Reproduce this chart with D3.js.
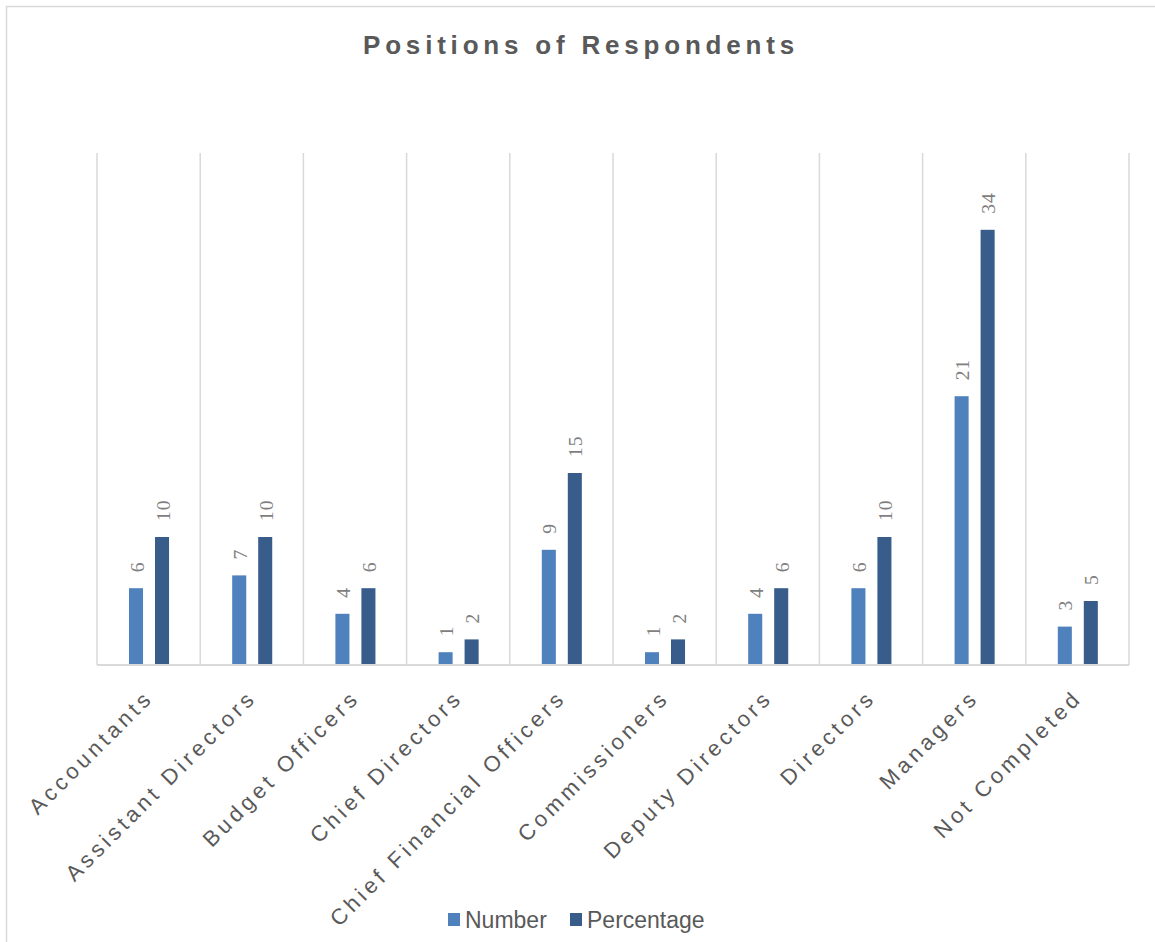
<!DOCTYPE html>
<html>
<head>
<meta charset="utf-8">
<script src="https://cdn.jsdelivr.net/npm/d3@7"></script>
<style>
  body { margin: 0; background: #fff; }
  svg { display: block; }
</style>
</head>
<body>
<div id="chart"></div>
<script>
// chart data
var categories = ["Accountants", "Assistant Directors", "Budget Officers", "Chief Directors",
  "Chief Financial Officers", "Commissioners", "Deputy Directors", "Directors", "Managers", "Not Completed"];
var seriesNames = ["Number", "Percentage"];
var numberValues = [6, 7, 4, 1, 9, 1, 4, 6, 21, 3];
var percentageValues = [10, 10, 6, 2, 15, 2, 6, 10, 34, 5];
var seriesColors = ["#4f81bd", "#385d8a"];

var W = 1155, H = 942;
var margin = { left: 97, right: 26, top: 153, bottom: 277 };
var innerW = W - margin.left - margin.right;
var innerH = H - margin.top - margin.bottom;

var svg = d3.select("#chart").append("svg")
  .attr("width", W)
  .attr("height", H);

// outer frame (only top/left visible in the picture)
svg.append("path")
  .attr("d", "M6.5," + H + " L6.5,6.5 L" + W + ",6.5")
  .attr("fill", "none")
  .attr("stroke", "#d9d9d9")
  .attr("stroke-width", 1.5);

svg.append("text")
  .attr("x", 581)
  .attr("y", 54)
  .attr("text-anchor", "middle")
  .style("font-family", "'Liberation Sans', Arial, sans-serif")
  .style("font-size", "26px")
  .style("font-weight", "bold")
  .style("letter-spacing", "4.8px")
  .style("fill", "#595959")
  .text("Positions of Respondents");

var g = svg.append("g").attr("transform", "translate(" + margin.left + "," + margin.top + ")");

var x0 = d3.scaleBand().domain(categories).range([0, innerW]).padding(0);
var x1 = d3.scaleBand().domain(seriesNames)
  .range([x0.bandwidth() * 0.31, x0.bandwidth() * 0.698])
  .paddingInner(0.46);
var y = d3.scaleLinear().domain([0, 40]).range([innerH, 0]);

// vertical gridlines at category boundaries
var bounds = categories.map(function(c) { return x0(c); }).concat([innerW]);
g.selectAll(".grid")
  .data(bounds)
  .enter().append("line")
  .attr("class", "grid")
  .attr("x1", function(d) { return d; })
  .attr("x2", function(d) { return d; })
  .attr("y1", 0)
  .attr("y2", innerH)
  .attr("stroke", "#d9d9d9")
  .attr("stroke-width", 1.5);

var rows = categories.map(function(c, i) {
  return { cat: c, values: [
    { key: "Number", value: numberValues[i], color: seriesColors[0] },
    { key: "Percentage", value: percentageValues[i], color: seriesColors[1] }
  ] };
});

var groups = g.selectAll(".cat")
  .data(rows)
  .enter().append("g")
  .attr("class", "cat")
  .attr("transform", function(d) { return "translate(" + x0(d.cat) + ",0)"; });

groups.selectAll("rect")
  .data(function(d) { return d.values; })
  .enter().append("rect")
  .attr("x", function(d) { return x1(d.key); })
  .attr("width", x1.bandwidth())
  .attr("y", function(d) { return y(d.value); })
  .attr("height", function(d) { return innerH - y(d.value); })
  .attr("fill", function(d) { return d.color; });

groups.selectAll(".lbl")
  .data(function(d) { return d.values; })
  .enter().append("text")
  .attr("class", "lbl")
  .attr("transform", function(d) {
    return "translate(" + (x1(d.key) + x1.bandwidth() / 2 + 1) + "," + (y(d.value) - 16) + ") rotate(-90)";
  })
  .attr("dominant-baseline", "central")
  .style("font-family", "'Liberation Serif', 'Times New Roman', serif")
  .style("font-size", "19.5px")
  .style("letter-spacing", "1px")
  .style("fill", "#7f7f7f")
  .text(function(d) { return d.value; });

// baseline
g.append("line")
  .attr("x1", 0).attr("x2", innerW)
  .attr("y1", innerH).attr("y2", innerH)
  .attr("stroke", "#d9d9d9")
  .attr("stroke-width", 2);

// category axis labels
var xAxis = d3.axisBottom(x0).tickSize(0).tickPadding(0);
var axisG = g.append("g")
  .attr("transform", "translate(0," + innerH + ")")
  .call(xAxis);
axisG.select(".domain").remove();
axisG.selectAll(".tick text")
  .attr("x", 0)
  .attr("y", 0)
  .attr("dy", 0)
  .attr("text-anchor", "end")
  .attr("transform", "translate(6,34) rotate(-45)")
  .style("font-family", "'Liberation Sans', Arial, sans-serif")
  .style("font-size", "22px")
  .style("letter-spacing", "4px")
  .style("fill", "#595959");

// legend
var legend = svg.append("g").attr("transform", "translate(448,913)");
var legendX = [0, 122];
seriesNames.forEach(function(s, i) {
  var lg = legend.append("g").attr("transform", "translate(" + legendX[i] + ",0)");
  lg.append("rect")
    .attr("width", 12)
    .attr("height", 13)
    .attr("fill", seriesColors[i]);
  lg.append("text")
    .attr("x", 17)
    .attr("y", 14.5)
    .style("font-family", "'Liberation Sans', Arial, sans-serif")
    .style("font-size", "23px")
    .style("fill", "#595959")
    .text(s);
});
</script>
</body>
</html>
